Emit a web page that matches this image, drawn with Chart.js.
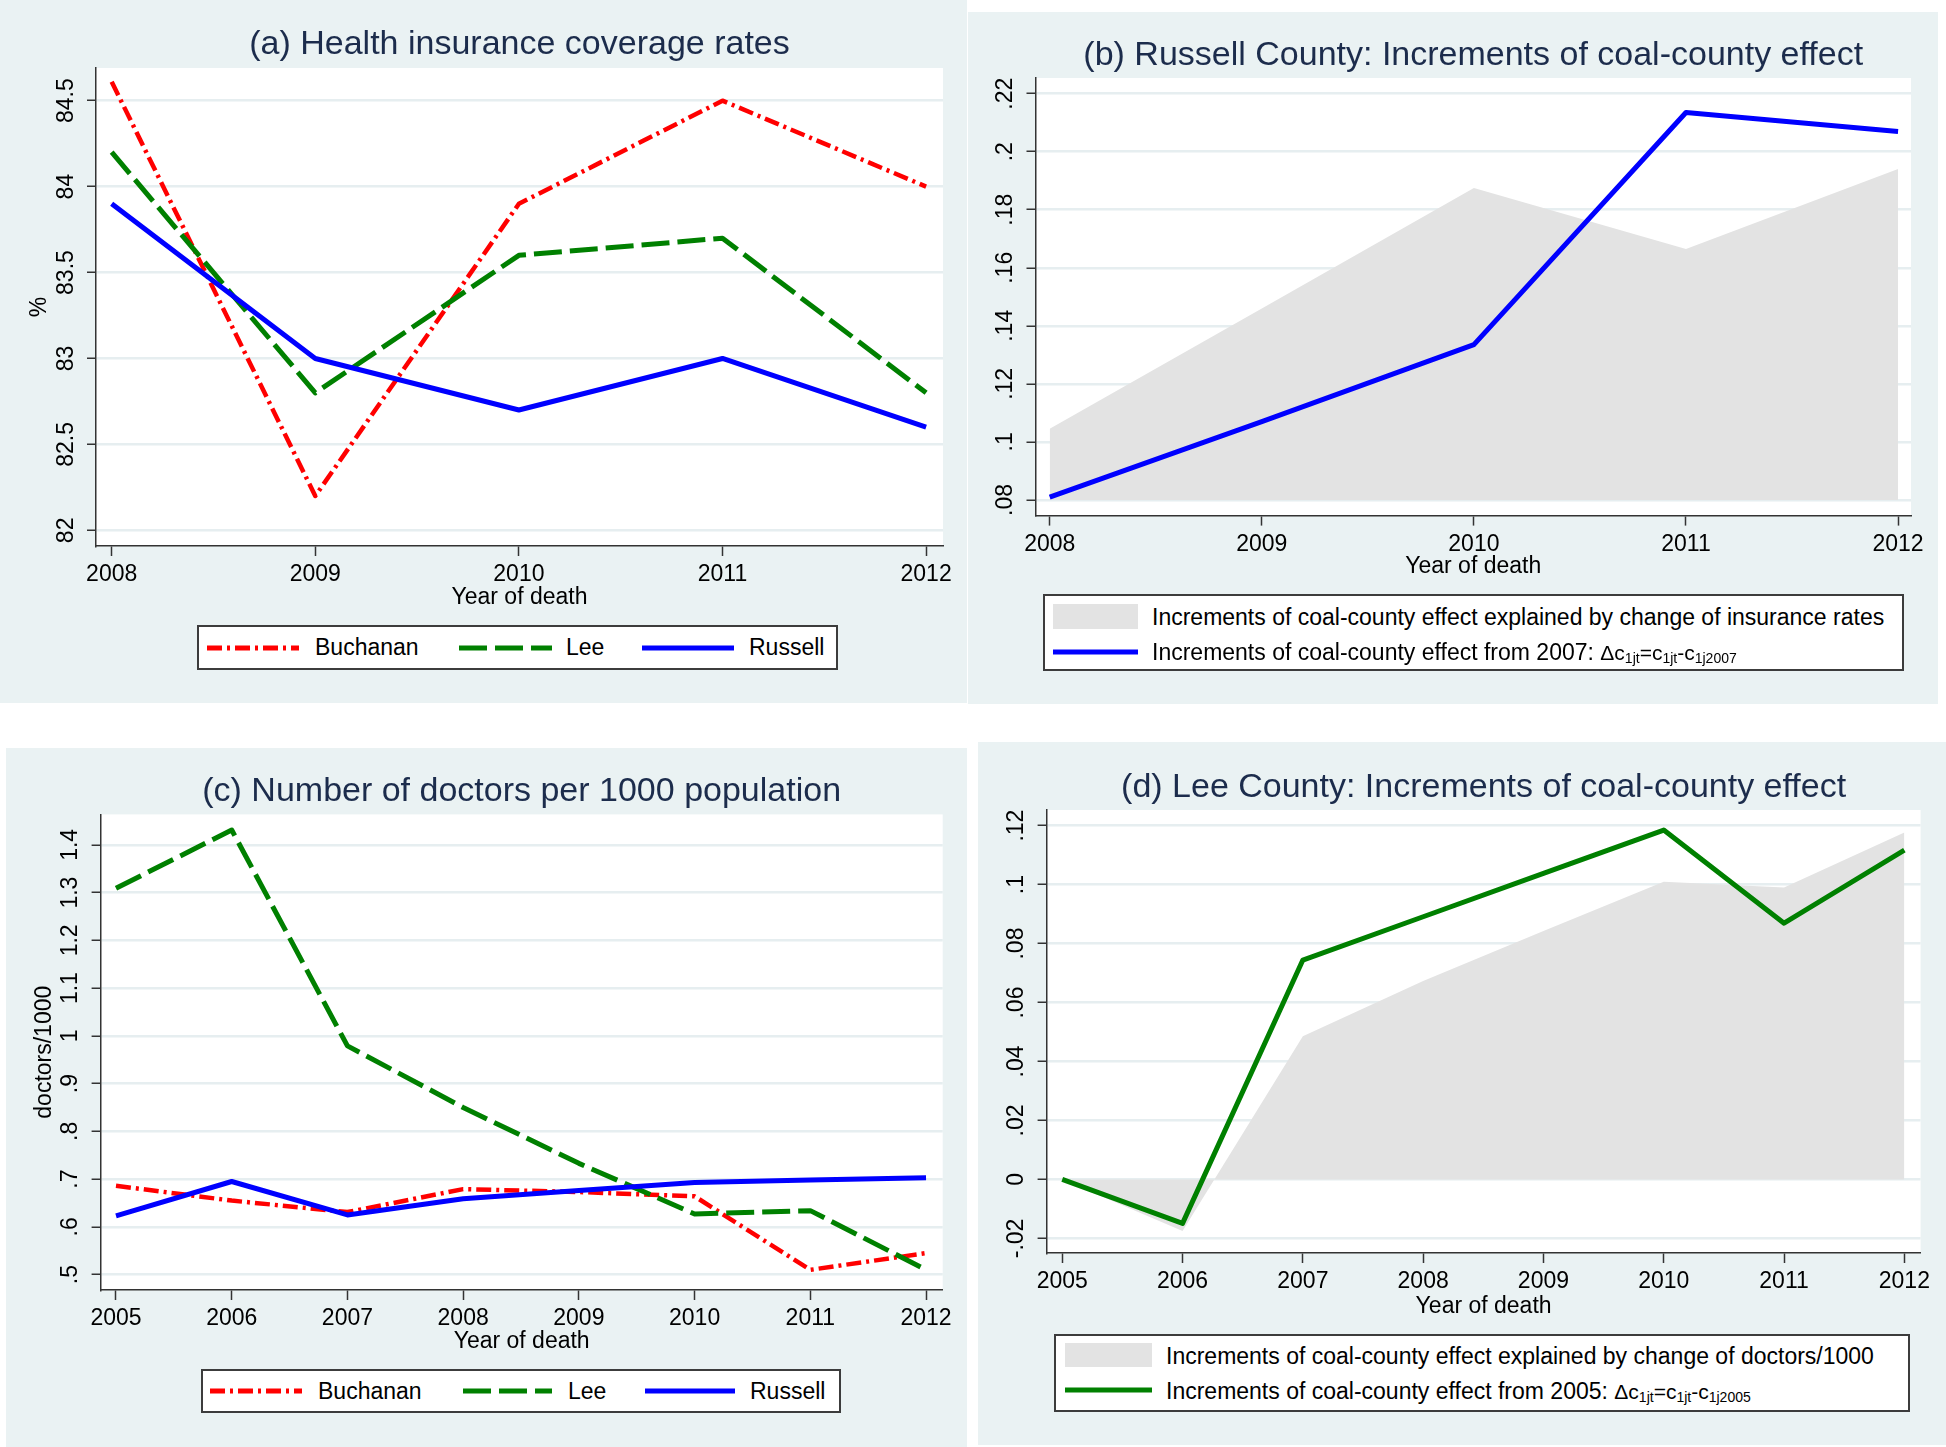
<!DOCTYPE html>
<html>
<head>
<meta charset="utf-8">
<script src="https://cdn.jsdelivr.net/npm/chart.js@4.4.1/dist/chart.umd.min.js"></script>
<style>
  body { margin: 0; width: 1946px; height: 1447px; background: #fff; position: relative; overflow: hidden;
         font-family: "Liberation Sans", Arial, sans-serif; }
  .panel { position: absolute; background: #EAF2F3; }
  .panel canvas { position: absolute; left: 0; top: 0; }
  .legend { position: absolute; background: #fff; border: 2px solid #3c3c3c; box-sizing: border-box; }
  .ltext { position: absolute; white-space: nowrap; font-size: 23px; line-height: 27px; color: #000; }
  .ltext .m { font-size: 21px; }
  .ltext sub { font-size: 14px; vertical-align: -3px; }
</style>
</head>
<body>
<script>
// (a) health insurance coverage rates, %
const yearsIns = [2008, 2009, 2010, 2011, 2012];
const buchananIns = [84.61, 82.20, 83.90, 84.50, 84.00];
const leeIns = [84.20, 82.80, 83.60, 83.70, 82.80];
const russellIns = [83.90, 83.00, 82.70, 83.00, 82.60];
const ticksA = [82, 82.5, 83, 83.5, 84, 84.5];
const labelsA = ['82', '82.5', '83', '83.5', '84', '84.5'];

// (b) Russell County increments
const effectRussell = [0.081, 0.107, 0.1335, 0.2135, 0.207];
const explainedRussell = [0.1045, 0.146, 0.1875, 0.1665, 0.194];
const ticksB = [0.08, 0.10, 0.12, 0.14, 0.16, 0.18, 0.20, 0.22];
const labelsB = ['.08', '.1', '.12', '.14', '.16', '.18', '.2', '.22'];

// (c) doctors per 1000 population
const yearsDoc = [2005, 2006, 2007, 2008, 2009, 2010, 2011, 2012];
const buchananDoc = [0.686, 0.655, 0.631, 0.679, 0.673, 0.664, 0.510, 0.545];
const leeDoc = [1.309, 1.431, 0.979, 0.850, 0.733, 0.627, 0.634, 0.510];
const russellDoc = [0.623, 0.695, 0.625, 0.659, 0.676, 0.693, 0.698, 0.703];
const ticksC = [0.5, 0.6, 0.7, 0.8, 0.9, 1.0, 1.1, 1.2, 1.3, 1.4];
const labelsC = ['.5', '.6', '.7', '.8', '.9', '1', '1.1', '1.2', '1.3', '1.4'];

// (d) Lee County increments
const effectLee = [0, -0.0149, 0.0744, 0.0891, 0.1038, 0.1185, 0.0869, 0.1117];
const explainedLee = [0, -0.0175, 0.0486, 0.0673, 0.0843, 0.101, 0.099, 0.1177];
const ticksD = [-0.02, 0, 0.02, 0.04, 0.06, 0.08, 0.10, 0.12];
const labelsD = ['-.02', '0', '.02', '.04', '.06', '.08', '.1', '.12'];

const FONT = '"Liberation Sans", Arial, sans-serif';
const TITLE_SIZE = 34, TICK_SIZE = 23, H_X = 70;
const RED = '#FF0000', GREEN = '#008000', BLUE = '#0000FF', AREA = '#E3E3E3';
const AXIS = '#333333', GRID = '#E6EEF0', TITLE_COLOR = '#1c2c4c';
const DASH_BUCH = [15, 5, 3, 5], DASH_LEE = [28, 8];

Chart.defaults.font.family = FONT;
Chart.defaults.color = '#000';

// white plot region like stata's plotregion
const plotBg = {
  id: 'plotBg',
  beforeDraw(chart) {
    const {ctx, chartArea: a} = chart;
    ctx.save();
    ctx.fillStyle = '#fff';
    ctx.fillRect(a.left, a.top, a.right - a.left, a.bottom - a.top);
    ctx.restore();
  }
};

function series(xs, ys, style) {
  return Object.assign({
    data: xs.map((x, i) => ({x: x, y: ys[i]})),
    pointRadius: 0, tension: 0, fill: false, borderJoinStyle: 'round'
  }, style);
}

function buildChart(p) {
  const bg = p.bg, plot = p.plot;
  const wrap = document.createElement('div');
  wrap.className = 'panel';
  Object.assign(wrap.style, {left: bg.x + 'px', top: bg.y + 'px', width: bg.w + 'px', height: bg.h + 'px'});
  const cv = document.createElement('canvas');
  cv.width = bg.w; cv.height = bg.h;
  cv.style.width = bg.w + 'px'; cv.style.height = bg.h + 'px';
  wrap.appendChild(cv);
  document.body.appendChild(wrap);

  const m = document.createElement('canvas').getContext('2d');
  m.font = TICK_SIZE + 'px ' + FONT;
  const widest = Math.max(...p.yLabels.map(t => m.measureText(t).width));
  const lhT = TITLE_SIZE * 1.2, lhK = TICK_SIZE * 1.2;

  new Chart(cv, {
    type: 'line',
    data: {datasets: p.datasets},
    plugins: [plotBg],
    options: {
      responsive: false, animation: false, devicePixelRatio: 1,
      layout: {padding: {
        left: plot.L - p.wy - bg.x,
        right: bg.x + bg.w - plot.R,
        top: 0,
        bottom: bg.y + bg.h - (plot.B + H_X)
      }},
      plugins: {
        legend: {display: false},
        tooltip: {enabled: false},
        title: {
          display: true, text: p.title, fullSize: false, color: TITLE_COLOR,
          font: {size: TITLE_SIZE, weight: 'normal', lineHeight: 1.2},
          padding: {top: p.titleY - bg.y - lhT / 2, bottom: plot.T - p.titleY - lhT / 2}
        }
      },
      scales: {
        x: {
          type: 'linear', min: p.xMin, max: p.xMax,
          afterBuildTicks: s => { s.ticks = p.xTicks.map(v => ({value: v})); },
          afterFit: s => { s.height = H_X; },
          grid: {drawOnChartArea: false, tickLength: 10, tickColor: AXIS, tickWidth: 1.5},
          border: {color: AXIS, width: 1.5},
          ticks: {font: {size: TICK_SIZE}, padding: 5, maxRotation: 0, autoSkip: false, callback: v => String(v)},
          title: {display: true, text: 'Year of death', font: {size: TICK_SIZE, lineHeight: 1.2},
                  padding: {top: 0, bottom: plot.B + H_X - lhK / 2 - p.xTitleY}}
        },
        y: {
          type: 'linear', min: p.yMin, max: p.yMax,
          afterBuildTicks: s => { s.ticks = p.yTicks.map(v => ({value: v})); },
          afterFit: s => { s.width = p.wy; },
          grid: {color: GRID, lineWidth: 2.5, tickLength: 9, tickColor: AXIS, tickWidth: 1.5},
          border: {color: AXIS, width: 1.5},
          ticks: {font: {size: TICK_SIZE}, minRotation: 90, maxRotation: 90, crossAlign: 'center',
                  padding: 20.5 - widest / 2, autoSkip: false, callback: (v, i) => p.yLabels[i]},
          title: {display: !!p.yTitle, text: p.yTitle || '', font: {size: TICK_SIZE, lineHeight: 1.2},
                  padding: {top: p.wy - 56 - lhK / 2, bottom: 0}}
        }
      }
    }
  });
}

buildChart({
  bg: {x: 0, y: 0, w: 967, h: 703}, plot: {L: 96, T: 68, R: 943, B: 546}, wy: 70,
  title: '(a) Health insurance coverage rates', titleY: 45, xTitleY: 598, yTitle: '%',
  xMin: 2007.923, xMax: 2012.083, xTicks: yearsIns,
  yMin: 81.909, yMax: 84.69, yTicks: ticksA, yLabels: labelsA,
  datasets: [
    series(yearsIns, buchananIns, {borderColor: RED, borderWidth: 4.5, borderDash: DASH_BUCH, order: 3}),
    series(yearsIns, leeIns, {borderColor: GREEN, borderWidth: 5, borderDash: DASH_LEE, order: 2}),
    series(yearsIns, russellIns, {borderColor: BLUE, borderWidth: 5, order: 1})
  ]
});

buildChart({
  bg: {x: 968, y: 12, w: 970, h: 692}, plot: {L: 1035.5, T: 78, R: 1911, B: 515.6}, wy: 60,
  title: '(b) Russell County: Increments of coal-county effect', titleY: 56, xTitleY: 567,
  xMin: 2007.933, xMax: 2012.061, xTicks: yearsIns,
  yMin: 0.0746, yMax: 0.2254, yTicks: ticksB, yLabels: labelsB,
  datasets: [
    series(yearsIns, effectRussell, {borderColor: BLUE, borderWidth: 5, order: 1}),
    series(yearsIns, explainedRussell, {backgroundColor: AREA, borderWidth: 0, fill: {value: 0.08}, order: 2})
  ]
});

buildChart({
  bg: {x: 6, y: 748, w: 961, h: 699}, plot: {L: 100.6, T: 814.4, R: 942.7, B: 1290}, wy: 70,
  title: '(c) Number of doctors per 1000 population', titleY: 792, xTitleY: 1342, yTitle: 'doctors/1000',
  xMin: 2004.867, xMax: 2012.144, xTicks: yearsDoc,
  yMin: 0.4678, yMax: 1.4637, yTicks: ticksC, yLabels: labelsC,
  datasets: [
    series(yearsDoc, buchananDoc, {borderColor: RED, borderWidth: 4.5, borderDash: DASH_BUCH, order: 3}),
    series(yearsDoc, leeDoc, {borderColor: GREEN, borderWidth: 5, borderDash: DASH_LEE, order: 2}),
    series(yearsDoc, russellDoc, {borderColor: BLUE, borderWidth: 5, order: 1})
  ]
});

buildChart({
  bg: {x: 978, y: 742, w: 968, h: 703}, plot: {L: 1046.6, T: 810, R: 1920.6, B: 1253}, wy: 60,
  title: '(d) Lee County: Increments of coal-county effect', titleY: 787.5, xTitleY: 1307,
  xMin: 2004.87, xMax: 2012.135, xTicks: yearsDoc,
  yMin: -0.02495, yMax: 0.1253, yTicks: ticksD, yLabels: labelsD,
  datasets: [
    series(yearsDoc, effectLee, {borderColor: GREEN, borderWidth: 5, order: 1}),
    series(yearsDoc, explainedLee, {backgroundColor: AREA, borderWidth: 0, fill: {value: 0}, order: 2})
  ]
});

// legends
function add(tag, cls, style, html) {
  const e = document.createElement(tag);
  if (cls) e.className = cls;
  Object.assign(e.style, style);
  if (html) e.innerHTML = html;
  document.body.appendChild(e);
  return e;
}
function legendBox(x, y, w, h) {
  add('div', 'legend', {left: x + 'px', top: y + 'px', width: w + 'px', height: h + 'px'});
}
function legendLine(x, cy, w, color, width, dash) {
  const svgNS = 'http://www.w3.org/2000/svg';
  const svg = document.createElementNS(svgNS, 'svg');
  svg.setAttribute('width', w); svg.setAttribute('height', 10);
  Object.assign(svg.style, {position: 'absolute', left: x + 'px', top: (cy - 5) + 'px'});
  const ln = document.createElementNS(svgNS, 'line');
  ln.setAttribute('x1', 0); ln.setAttribute('y1', 5); ln.setAttribute('x2', w); ln.setAttribute('y2', 5);
  ln.setAttribute('stroke', color); ln.setAttribute('stroke-width', width);
  if (dash) ln.setAttribute('stroke-dasharray', dash.join(' '));
  svg.appendChild(ln);
  document.body.appendChild(svg);
}
function legendRect(x, y, w, h, color) {
  add('div', '', {position: 'absolute', left: x + 'px', top: y + 'px', width: w + 'px', height: h + 'px', background: color});
}
function legendText(x, cy, html) {
  add('div', 'ltext', {left: x + 'px', top: (cy - 13.5) + 'px'}, html);
}

legendBox(197, 625, 641, 45);
legendLine(207, 647.5, 92, RED, 5, DASH_BUCH);
legendText(315, 647.5, 'Buchanan');
legendLine(459, 647.5, 93, GREEN, 5, DASH_LEE);
legendText(566, 647.5, 'Lee');
legendLine(642, 647.5, 92, BLUE, 5);
legendText(749, 647.5, 'Russell');

legendBox(1043, 594, 861, 77);
legendRect(1053, 604, 85, 25, AREA);
legendText(1152, 617, 'Increments of coal-county effect explained by change of insurance rates');
legendLine(1053, 652, 85, BLUE, 5);
legendText(1152, 652, 'Increments of coal-county effect from 2007: <span class="m">&Delta;c<sub>1jt</sub>=c<sub>1jt</sub>-c<sub>1j2007</sub></span>');

legendBox(201, 1369, 640, 44);
legendLine(210, 1391, 92, RED, 5, DASH_BUCH);
legendText(318, 1391, 'Buchanan');
legendLine(463, 1391, 89, GREEN, 5, DASH_LEE);
legendText(568, 1391, 'Lee');
legendLine(645, 1391, 90, BLUE, 5);
legendText(750, 1391, 'Russell');

legendBox(1054, 1334, 856, 78);
legendRect(1065, 1343, 87, 24, AREA);
legendText(1166, 1356, 'Increments of coal-county effect explained by change of doctors/1000');
legendLine(1065, 1390, 87, GREEN, 5);
legendText(1166, 1391, 'Increments of coal-county effect from 2005: <span class="m">&Delta;c<sub>1jt</sub>=c<sub>1jt</sub>-c<sub>1j2005</sub></span>');
</script>
</body>
</html>
